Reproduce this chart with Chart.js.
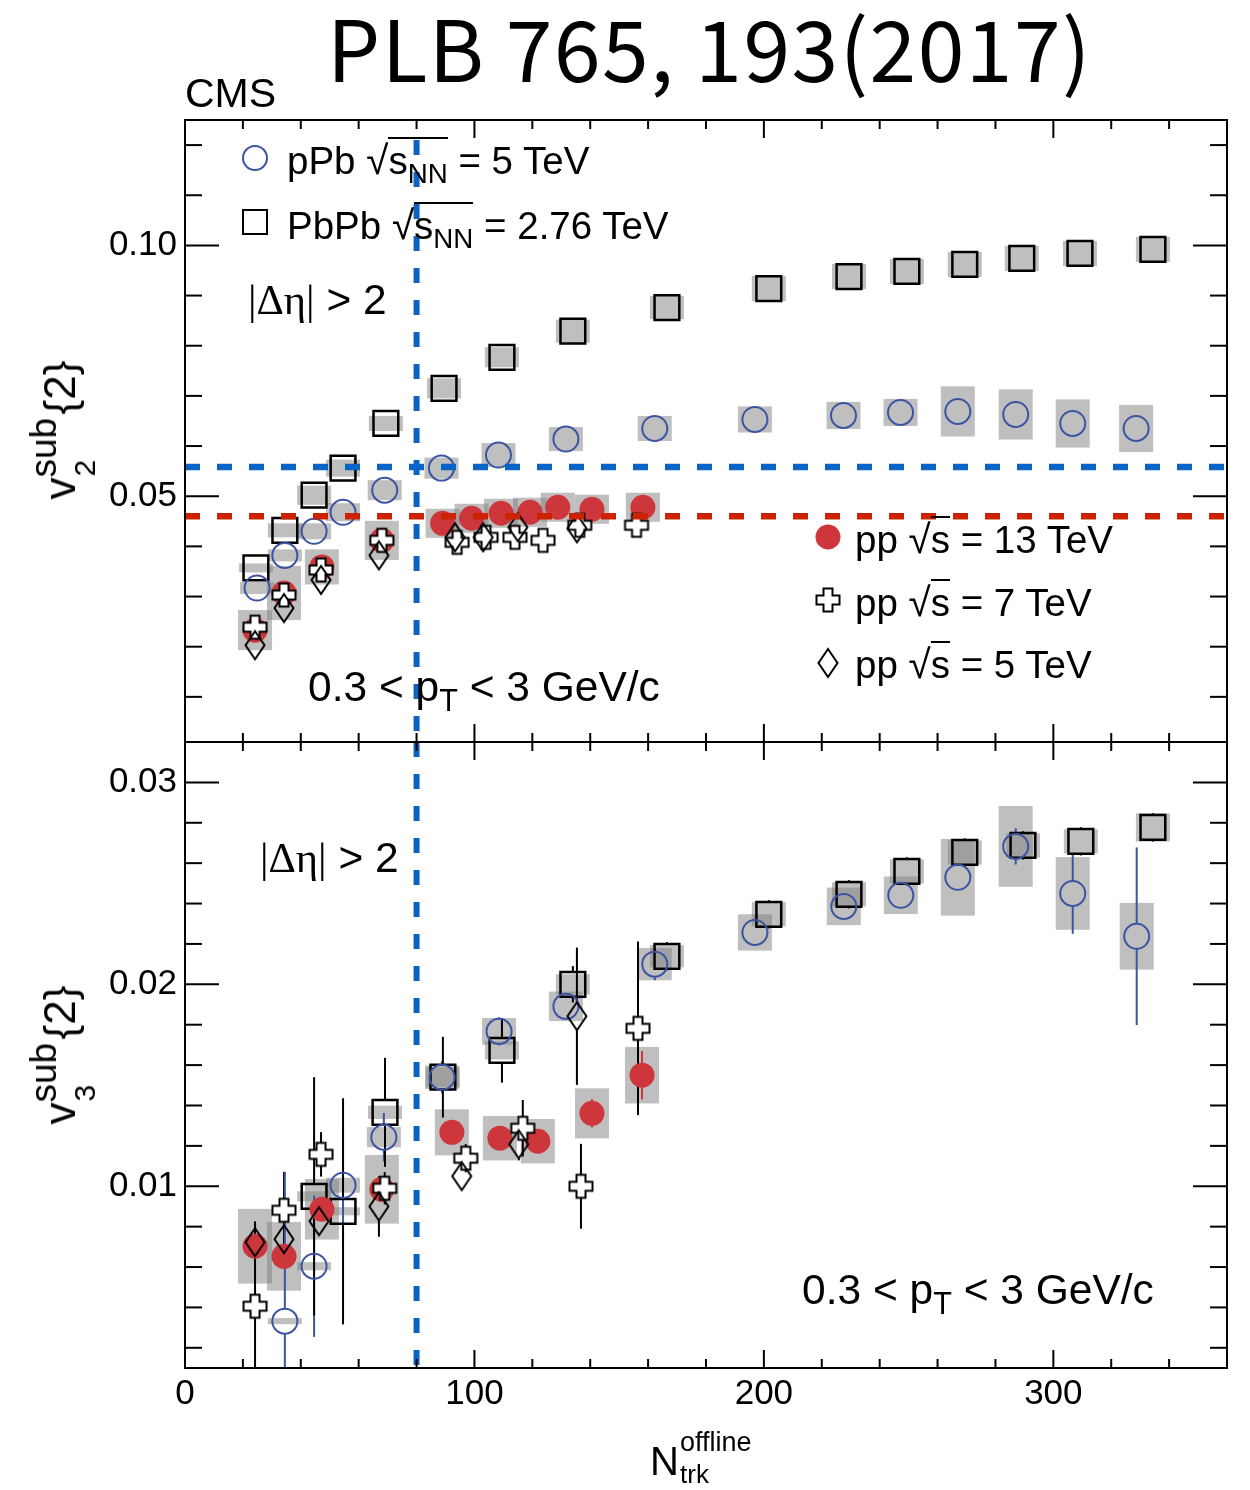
<!DOCTYPE html>
<html>
<head>
<meta charset="utf-8">
<title>v2 / v3 sub vs Ntrk</title>
<script src="https://cdn.jsdelivr.net/npm/chart.js@4.4.1/dist/chart.umd.min.js"></script>
<style>
  body { margin: 0; background: #fff; }
  #wrap { position: relative; width: 1250px; height: 1490px; overflow: hidden;
          font-family: "Liberation Sans", Arial, sans-serif; color: #000; }
  canvas { position: absolute; left: 0; }
  .t  { position: absolute; white-space: nowrap; font-size: 38.5px; line-height: 1; }
  .big { font-size: 42.5px; }
  .sb { font-size: 0.72em; position: relative; top: 0.32em; }
  .ov { border-top: 2px solid #000; }
  .rt { font-size: 1.05em; }
  .gr { font-family: "Liberation Serif", serif; }
  .title { font-family: "Noto Sans CJK KR", "Noto Sans", sans-serif; font-size: 84px; letter-spacing: 1.5px; left: 327px; top: 4px; }
  .yt { position: absolute; width: 139px; height: 70px; transform: translate(-50%, -50%) rotate(-90deg); }
  .yt span { position: absolute; white-space: nowrap; line-height: 1; }
</style>
</head>
<body>
<div id="wrap">
  <canvas id="v2chart" style="top:0" width="1250" height="790"></canvas>
  <canvas id="v3chart" style="top:700px" width="1250" height="790"></canvas>

  <div class="t title">PLB 765, 193(2017)</div>
  <div class="t" style="left:185px;top:73px;font-size:41px">CMS</div>

  <!-- upper panel text -->
  <div class="t" style="left:287px;top:140px">pPb <span class="rt">√</span><span class="ov">s<span class="sb">NN</span></span> = 5 TeV</div>
  <div class="t" style="left:287px;top:205px">PbPb <span class="rt">√</span><span class="ov">s<span class="sb">NN</span></span> = 2.76 TeV</div>
  <div class="t big" style="left:248px;top:279px"><span class="gr">|Δη|</span> &gt; 2</div>
  <div class="t big" style="left:308px;top:666px">0.3 &lt; p<span class="sb">T</span> &lt; 3 GeV/c</div>
  <div class="t" style="left:855px;top:519px">pp <span class="rt">√</span><span class="ov">s</span> = 13 TeV</div>
  <div class="t" style="left:855px;top:582px">pp <span class="rt">√</span><span class="ov">s</span> = 7 TeV</div>
  <div class="t" style="left:855px;top:644px">pp <span class="rt">√</span><span class="ov">s</span> = 5 TeV</div>

  <!-- lower panel text -->
  <div class="t big" style="left:260px;top:837px"><span class="gr">|Δη|</span> &gt; 2</div>
  <div class="t big" style="left:802px;top:1269px">0.3 &lt; p<span class="sb">T</span> &lt; 3 GeV/c</div>

  <!-- axis titles -->
  <div class="yt" style="left:62px;top:430px">
    <span style="left:0;top:11px;font-size:44px">v</span>
    <span style="left:22px;top:-2px;font-size:37px">sub</span>
    <span style="left:23px;top:43px;font-size:30px">2</span>
    <span style="left:85px;top:11px;font-size:44px">{2}</span>
  </div>
  <div class="yt" style="left:62px;top:1055px">
    <span style="left:0;top:11px;font-size:44px">v</span>
    <span style="left:22px;top:-2px;font-size:37px">sub</span>
    <span style="left:23px;top:43px;font-size:30px">3</span>
    <span style="left:85px;top:11px;font-size:44px">{2}</span>
  </div>
  <div class="t" style="left:650px;top:1441px;font-size:40px">N</div>
  <div class="t" style="left:680px;top:1429px;font-size:27px">offline</div>
  <div class="t" style="left:680px;top:1461px;font-size:26px">trk</div>
</div>

<script>
// ── Data: v2sub{2} (upper panel) ──────────────────────────────
const v2_pPb_x    = [24.9, 34.5, 44.6, 54.6, 69.0, 88.6, 108.3, 131.6, 162.3, 196.9, 227.5, 247.2, 267.0, 287.0, 306.7, 328.6];
const v2_pPb_y    = [0.0317, 0.0382, 0.0430, 0.0468, 0.0512, 0.0556, 0.0582, 0.0614, 0.0635, 0.0653, 0.0661, 0.0667, 0.0669, 0.0663, 0.0645, 0.0635];
const v2_pPb_sys  = [0.0012, 0.0012, 0.0016, 0.0018, 0.0020, 0.0021, 0.0024, 0.0024, 0.0025, 0.0026, 0.0027, 0.0027, 0.0050, 0.0050, 0.0048, 0.0047];

const v2_PbPb_x   = [24.5, 34.5, 44.6, 54.6, 69.4, 89.5, 109.5, 134.0, 166.5, 201.7, 229.4, 249.4, 269.4, 289.1, 309.2, 334.4];
const v2_PbPb_y   = [0.0357, 0.0432, 0.0502, 0.0556, 0.0645, 0.0715, 0.0777, 0.0829, 0.0876, 0.0914, 0.0938, 0.0948, 0.0962, 0.0974, 0.0984, 0.0992];
const v2_PbPb_sys = [0.0009, 0.0014, 0.0019, 0.0017, 0.0015, 0.0020, 0.0020, 0.0023, 0.0023, 0.0025, 0.0025, 0.0025, 0.0025, 0.0025, 0.0025, 0.0025];

const v2_pp13_x   = [24.2, 34.2, 47.3, 68.0, 89.0, 99.0, 109.2, 119.2, 128.8, 140.6, 158.2];
const v2_pp13_y   = [0.0233, 0.0307, 0.0359, 0.0412, 0.0446, 0.0456, 0.0466, 0.0468, 0.0478, 0.0474, 0.0478];
const v2_pp13_sys = [0.0040, 0.0054, 0.0035, 0.0039, 0.0029, 0.0029, 0.0029, 0.0029, 0.0029, 0.0029, 0.0029];

const v2_pp7_x    = [24.2, 34.2, 47.0, 68.0, 94.0, 104.0, 114.0, 123.7, 136.4, 156.0];
const v2_pp7_y    = [0.0239, 0.0303, 0.0353, 0.0412, 0.0408, 0.0418, 0.0418, 0.0412, 0.0442, 0.0442];

const v2_pp5_x    = [24.2, 34.2, 47.0, 67.0, 93.3, 103.0, 115.0, 135.4];
const v2_pp5_y    = [0.0203, 0.0277, 0.0333, 0.0382, 0.0418, 0.0418, 0.0438, 0.0436];

// ── Data: v3sub{2} (lower panel) ──────────────────────────────
const v3_pPb_x    = [34.5, 44.6, 54.6, 68.7, 88.8, 108.5, 131.6, 162.3, 196.9, 227.6, 247.3, 267.0, 287.0, 306.7, 328.8];
const v3_pPb_y    = [0.00332, 0.00604, 0.01005, 0.01243, 0.0154, 0.01767, 0.01891, 0.0210, 0.02257, 0.02386, 0.02441, 0.0253, 0.02683, 0.0245, 0.02238];
const v3_pPb_err  = [0.0074, 0.0035, 0.0030, 0.0012, 0.0008, 0.0007, 0.0005, 0.0008, 0.0003, 0.0003, 0.0003, 0.0003, 0.0009, 0.0020, 0.0044];
const v3_pPb_sys  = [0.00015, 0.0002, 0.00037, 0.0005, 0.00058, 0.00066, 0.00073, 0.0008, 0.0009, 0.00093, 0.00093, 0.0019, 0.0020, 0.0018, 0.00165];

const v3_PbPb_x   = [44.6, 54.6, 69.1, 89.1, 109.5, 134.0, 166.5, 201.7, 229.4, 249.4, 269.4, 289.5, 309.5, 334.4];
const v3_PbPb_y   = [0.0095, 0.00876, 0.01366, 0.0154, 0.01673, 0.0200, 0.02139, 0.02347, 0.02446, 0.02559, 0.02653, 0.02688, 0.02708, 0.02777];
const v3_PbPb_err = [0.0059, 0.0056, 0.0027, 0.0020, 0.0016, 0.0009, 0.0007, 0.0007, 0.0007, 0.0007, 0.0007, 0.0007, 0.0007, 0.0007];
const v3_PbPb_sys = [0.00025, 0.0002, 0.00033, 0.0005, 0.00045, 0.0005, 0.00055, 0.0006, 0.0006, 0.0006, 0.0006, 0.0006, 0.0006, 0.0007];

const v3_pp13_x   = [24.2, 34.2, 47.3, 68.0, 92.2, 108.8, 121.9, 140.6, 157.9];
const v3_pp13_y   = [0.00703, 0.00653, 0.00886, 0.00985, 0.01267, 0.01238, 0.01223, 0.01361, 0.0155];
const v3_pp13_err = [0.0004, 0.0004, 0.0004, 0.0004, 0.0003, 0.0003, 0.0003, 0.0007, 0.0012];
const v3_pp13_sys = [0.00185, 0.0017, 0.0015, 0.0017, 0.00114, 0.0011, 0.0011, 0.00124, 0.0014];

const v3_pp7_x    = [24.2, 34.2, 47.0, 69.0, 97.0, 116.7, 136.8, 156.5];
const v3_pp7_y    = [0.00406, 0.00881, 0.01158, 0.0099, 0.01139, 0.01287, 0.0100, 0.01782];
const v3_pp7_err  = [0.0042, 0.0019, 0.0011, 0.0008, 0.0007, 0.0014, 0.0021, 0.0043];

const v3_pp5_x    = [24.2, 34.2, 46.3, 67.0, 95.6, 115.3, 135.4];
const v3_pp5_y    = [0.00723, 0.00738, 0.00827, 0.0090, 0.0105, 0.01208, 0.01842];
const v3_pp5_err  = [0.0005, 0.0008, 0.0005, 0.0015, 0.0004, 0.0008, 0.0034];

// ── Reference lines / axes ────────────────────────────────────
const ntrkCut   = 80;      // vertical blue dashed line
const v2RefPPb  = 0.0558;  // horizontal blue dashed line
const v2RefPP   = 0.046;   // horizontal red dashed line
const xTicks    = [0, 100, 200, 300];

const FONT = '"Liberation Sans", Arial, sans-serif';
const BLUE = '#3d54a3', RED = '#cd373c';

// ── Marker images (open cross, thin diamond) ──────────────────
function makeCross() {
  const c = document.createElement('canvas');
  c.width = 28; c.height = 28;
  const g = c.getContext('2d'), m = 14, a = 4.5, L = 11.5;
  g.beginPath();
  g.moveTo(m - a, m - L); g.lineTo(m + a, m - L); g.lineTo(m + a, m - a);
  g.lineTo(m + L, m - a); g.lineTo(m + L, m + a); g.lineTo(m + a, m + a);
  g.lineTo(m + a, m + L); g.lineTo(m - a, m + L); g.lineTo(m - a, m + a);
  g.lineTo(m - L, m + a); g.lineTo(m - L, m - a); g.lineTo(m - a, m - a);
  g.closePath();
  g.fillStyle = '#fff'; g.fill();
  g.lineWidth = 2; g.strokeStyle = '#000'; g.stroke();
  return c;
}
function makeDiamond() {
  const c = document.createElement('canvas');
  c.width = 24; c.height = 32;
  const g = c.getContext('2d');
  g.beginPath();
  g.moveTo(12, 2); g.lineTo(21.5, 16); g.lineTo(12, 30); g.lineTo(2.5, 16);
  g.closePath();
  g.lineWidth = 2; g.strokeStyle = '#000'; g.stroke();
  return c;
}
const crossImg = makeCross();
const diamondImg = makeDiamond();

const pts = (xs, ys) => xs.map((x, i) => ({ x, y: ys[i] }));
const near = (v, step) => Math.abs(v / step - Math.round(v / step)) < 1e-6;

// gap = half marker size in px; error bars are not drawn inside the marker (ROOT style)
const stPPb  = { pointStyle: 'circle', pointRadius: 12.5, pointBorderColor: BLUE, pointBorderWidth: 2, pointBackgroundColor: 'rgba(0,0,0,0)', errColor: BLUE, gap: 12.5 };
const stPbPb = { pointStyle: 'rect', pointRadius: 17.5, pointBorderColor: '#000', pointBorderWidth: 2.5, pointBackgroundColor: 'rgba(0,0,0,0)', errColor: '#000', gap: 12.5 };
const stPP13 = { pointStyle: 'circle', pointRadius: 12.5, pointBorderWidth: 0, pointBackgroundColor: RED, pointBorderColor: RED, errColor: RED, gap: 0 };
const stPP7  = { pointStyle: crossImg, pointRadius: 12, errColor: '#000', gap: 11.5 };
const stPP5  = { pointStyle: diamondImg, pointRadius: 12, errColor: '#000', gap: 14 };

// ── Boxes, error bars, dashed lines, frame and ticks ──────────
const deco = {
  id: 'deco',
  beforeDatasetsDraw(chart) {
    const { ctx, chartArea: a, scales: { x, y } } = chart;
    ctx.save();
    ctx.beginPath(); ctx.rect(a.left, a.top, a.right - a.left, a.bottom - a.top); ctx.clip();
    // systematic boxes
    ctx.fillStyle = 'rgba(128,128,128,0.5)';
    chart.data.datasets.forEach(ds => {
      if (!ds.sys) return;
      ds.data.forEach((p, i) => {
        const px = x.getPixelForValue(p.x);
        const t = y.getPixelForValue(p.y + ds.sys[i]);
        const b = y.getPixelForValue(p.y - ds.sys[i]);
        ctx.fillRect(px - 17, t, 34, b - t);
      });
    });
    // statistical error bars
    ctx.lineWidth = 2;
    chart.data.datasets.forEach(ds => {
      if (!ds.err) return;
      ctx.strokeStyle = ds.errColor;
      ds.data.forEach((p, i) => {
        const px = x.getPixelForValue(p.x);
        const pc = y.getPixelForValue(p.y);
        const t = y.getPixelForValue(p.y + ds.err[i]);
        const b = y.getPixelForValue(p.y - ds.err[i]);
        if (pc - t > ds.gap) { ctx.beginPath(); ctx.moveTo(px, t); ctx.lineTo(px, pc - ds.gap); ctx.stroke(); }
        if (b - pc > ds.gap) { ctx.beginPath(); ctx.moveTo(px, pc + ds.gap); ctx.lineTo(px, b); ctx.stroke(); }
      });
    });
    ctx.restore();
  },
  afterDatasetsDraw(chart, args, opts) {
    const { ctx, chartArea: a, scales: { x, y } } = chart;
    const line = (x1, y1, x2, y2) => { ctx.beginPath(); ctx.moveTo(x1, y1); ctx.lineTo(x2, y2); ctx.stroke(); };
    ctx.save();
    // dashed reference lines
    ctx.setLineDash([15, 17]);
    ctx.lineWidth = 6.5;
    (opts.hLines || []).forEach(h => {
      ctx.strokeStyle = h.color;
      const py = y.getPixelForValue(h.value);
      line(a.left, py, a.right, py);
    });
    ctx.strokeStyle = '#0a64c8';
    ctx.lineWidth = 6;
    const cx = x.getPixelForValue(ntrkCut);
    line(cx, a.top + opts.vStart, cx, a.bottom);
    ctx.setLineDash([]);

    // frame + inward ticks
    ctx.strokeStyle = '#000';
    ctx.lineWidth = 2;
    ctx.strokeRect(a.left, a.top, a.right - a.left, a.bottom - a.top);
    for (let v = 20; v < x.max; v += 20) {
      const px = x.getPixelForValue(v);
      const L = v % 100 === 0 ? 18 : 9;
      line(px, a.bottom, px, a.bottom - L);
      line(px, a.top, px, a.top + L);
    }
    for (let k = Math.ceil(y.min / opts.yMinor - 1e-9); k * opts.yMinor < y.max - 1e-9; k++) {
      const v = k * opts.yMinor;
      const py = y.getPixelForValue(v);
      const L = near(v, opts.yMajor) ? 34 : 17;
      line(a.left, py, a.left + L, py);
      line(a.right, py, a.right - L, py);
    }
    ctx.restore();
  },
  afterDraw(chart, args, opts) {
    if (!opts.legend) return;
    const ctx = chart.ctx;
    ctx.save();
    ctx.lineWidth = 2;
    ctx.strokeStyle = BLUE;
    ctx.beginPath(); ctx.arc(255, 158, 12, 0, Math.PI * 2); ctx.stroke();
    ctx.strokeStyle = '#000';
    ctx.strokeRect(243, 210, 24, 24);
    ctx.fillStyle = RED;
    ctx.beginPath(); ctx.arc(828, 537, 12.5, 0, Math.PI * 2); ctx.fill();
    ctx.drawImage(crossImg, 828 - 14, 600 - 14);
    ctx.drawImage(diamondImg, 828 - 12, 663 - 16);
    ctx.restore();
  }
};

function yScale(min, max, labelStep) {
  return {
    type: 'linear', min, max,
    afterFit: s => { s.width = 185; },
    grid: { display: false, drawTicks: false },
    border: { display: false },
    ticks: {
      stepSize: 0.01, autoSkip: false, padding: 8, color: '#000',
      font: { family: FONT, size: 35 },
      callback: v => (near(v, labelStep) && v > 0.005) ? v.toFixed(2) : ''
    }
  };
}

// upper panel: v2
new Chart(document.getElementById('v2chart'), {
  type: 'scatter',
  data: {
    datasets: [
      { label: 'pp 5 TeV',  data: pts(v2_pp5_x, v2_pp5_y), ...stPP5 },
      { label: 'pp 7 TeV',  data: pts(v2_pp7_x, v2_pp7_y), ...stPP7 },
      { label: 'pp 13 TeV', data: pts(v2_pp13_x, v2_pp13_y), sys: v2_pp13_sys, ...stPP13 },
      { label: 'pPb 5 TeV', data: pts(v2_pPb_x, v2_pPb_y), sys: v2_pPb_sys, ...stPPb },
      { label: 'PbPb 2.76 TeV', data: pts(v2_PbPb_x, v2_PbPb_y), sys: v2_PbPb_sys, ...stPbPb }
    ]
  },
  options: {
    responsive: false, animation: false, events: [],
    layout: { padding: { top: 120, right: 23, bottom: 48, left: 0 } },
    scales: {
      x: { type: 'linear', min: 0, max: 360, display: false },
      y: yScale(0.001, 0.125, 0.05)
    },
    plugins: {
      legend: { display: false }, tooltip: { enabled: false },
      deco: {
        yMinor: 0.01, yMajor: 0.05, vStart: 20, legend: true,
        hLines: [{ value: v2RefPPb, color: '#0a64c8' }, { value: v2RefPP, color: '#cc2200' }]
      }
    }
  },
  plugins: [deco]
});

// lower panel: v3
new Chart(document.getElementById('v3chart'), {
  type: 'scatter',
  data: {
    datasets: [
      { label: 'pp 5 TeV',  data: pts(v3_pp5_x, v3_pp5_y), err: v3_pp5_err, ...stPP5 },
      { label: 'pp 7 TeV',  data: pts(v3_pp7_x, v3_pp7_y), err: v3_pp7_err, ...stPP7 },
      { label: 'pp 13 TeV', data: pts(v3_pp13_x, v3_pp13_y), err: v3_pp13_err, sys: v3_pp13_sys, ...stPP13 },
      { label: 'pPb 5 TeV', data: pts(v3_pPb_x, v3_pPb_y), err: v3_pPb_err, sys: v3_pPb_sys, ...stPPb },
      { label: 'PbPb 2.76 TeV', data: pts(v3_PbPb_x, v3_PbPb_y), err: v3_PbPb_err, sys: v3_PbPb_sys, ...stPbPb }
    ]
  },
  options: {
    responsive: false, animation: false, events: [],
    layout: { padding: { top: 42, right: 23, bottom: 0, left: 0 } },
    scales: {
      x: {
        type: 'linear', min: 0, max: 360,
        afterFit: s => { s.height = 122; },
        afterBuildTicks: s => { s.ticks = xTicks.map(v => ({ value: v })); },
        grid: { display: false, drawTicks: false },
        border: { display: false },
        ticks: { autoSkip: false, maxRotation: 0, padding: 5, color: '#000', font: { family: FONT, size: 35 } }
      },
      y: yScale(0.001, 0.032, 0.01)
    },
    plugins: {
      legend: { display: false }, tooltip: { enabled: false },
      deco: { yMinor: 0.002, yMajor: 0.01, vStart: 0, legend: false, hLines: [] }
    }
  },
  plugins: [deco]
});
</script>
</body>
</html>
